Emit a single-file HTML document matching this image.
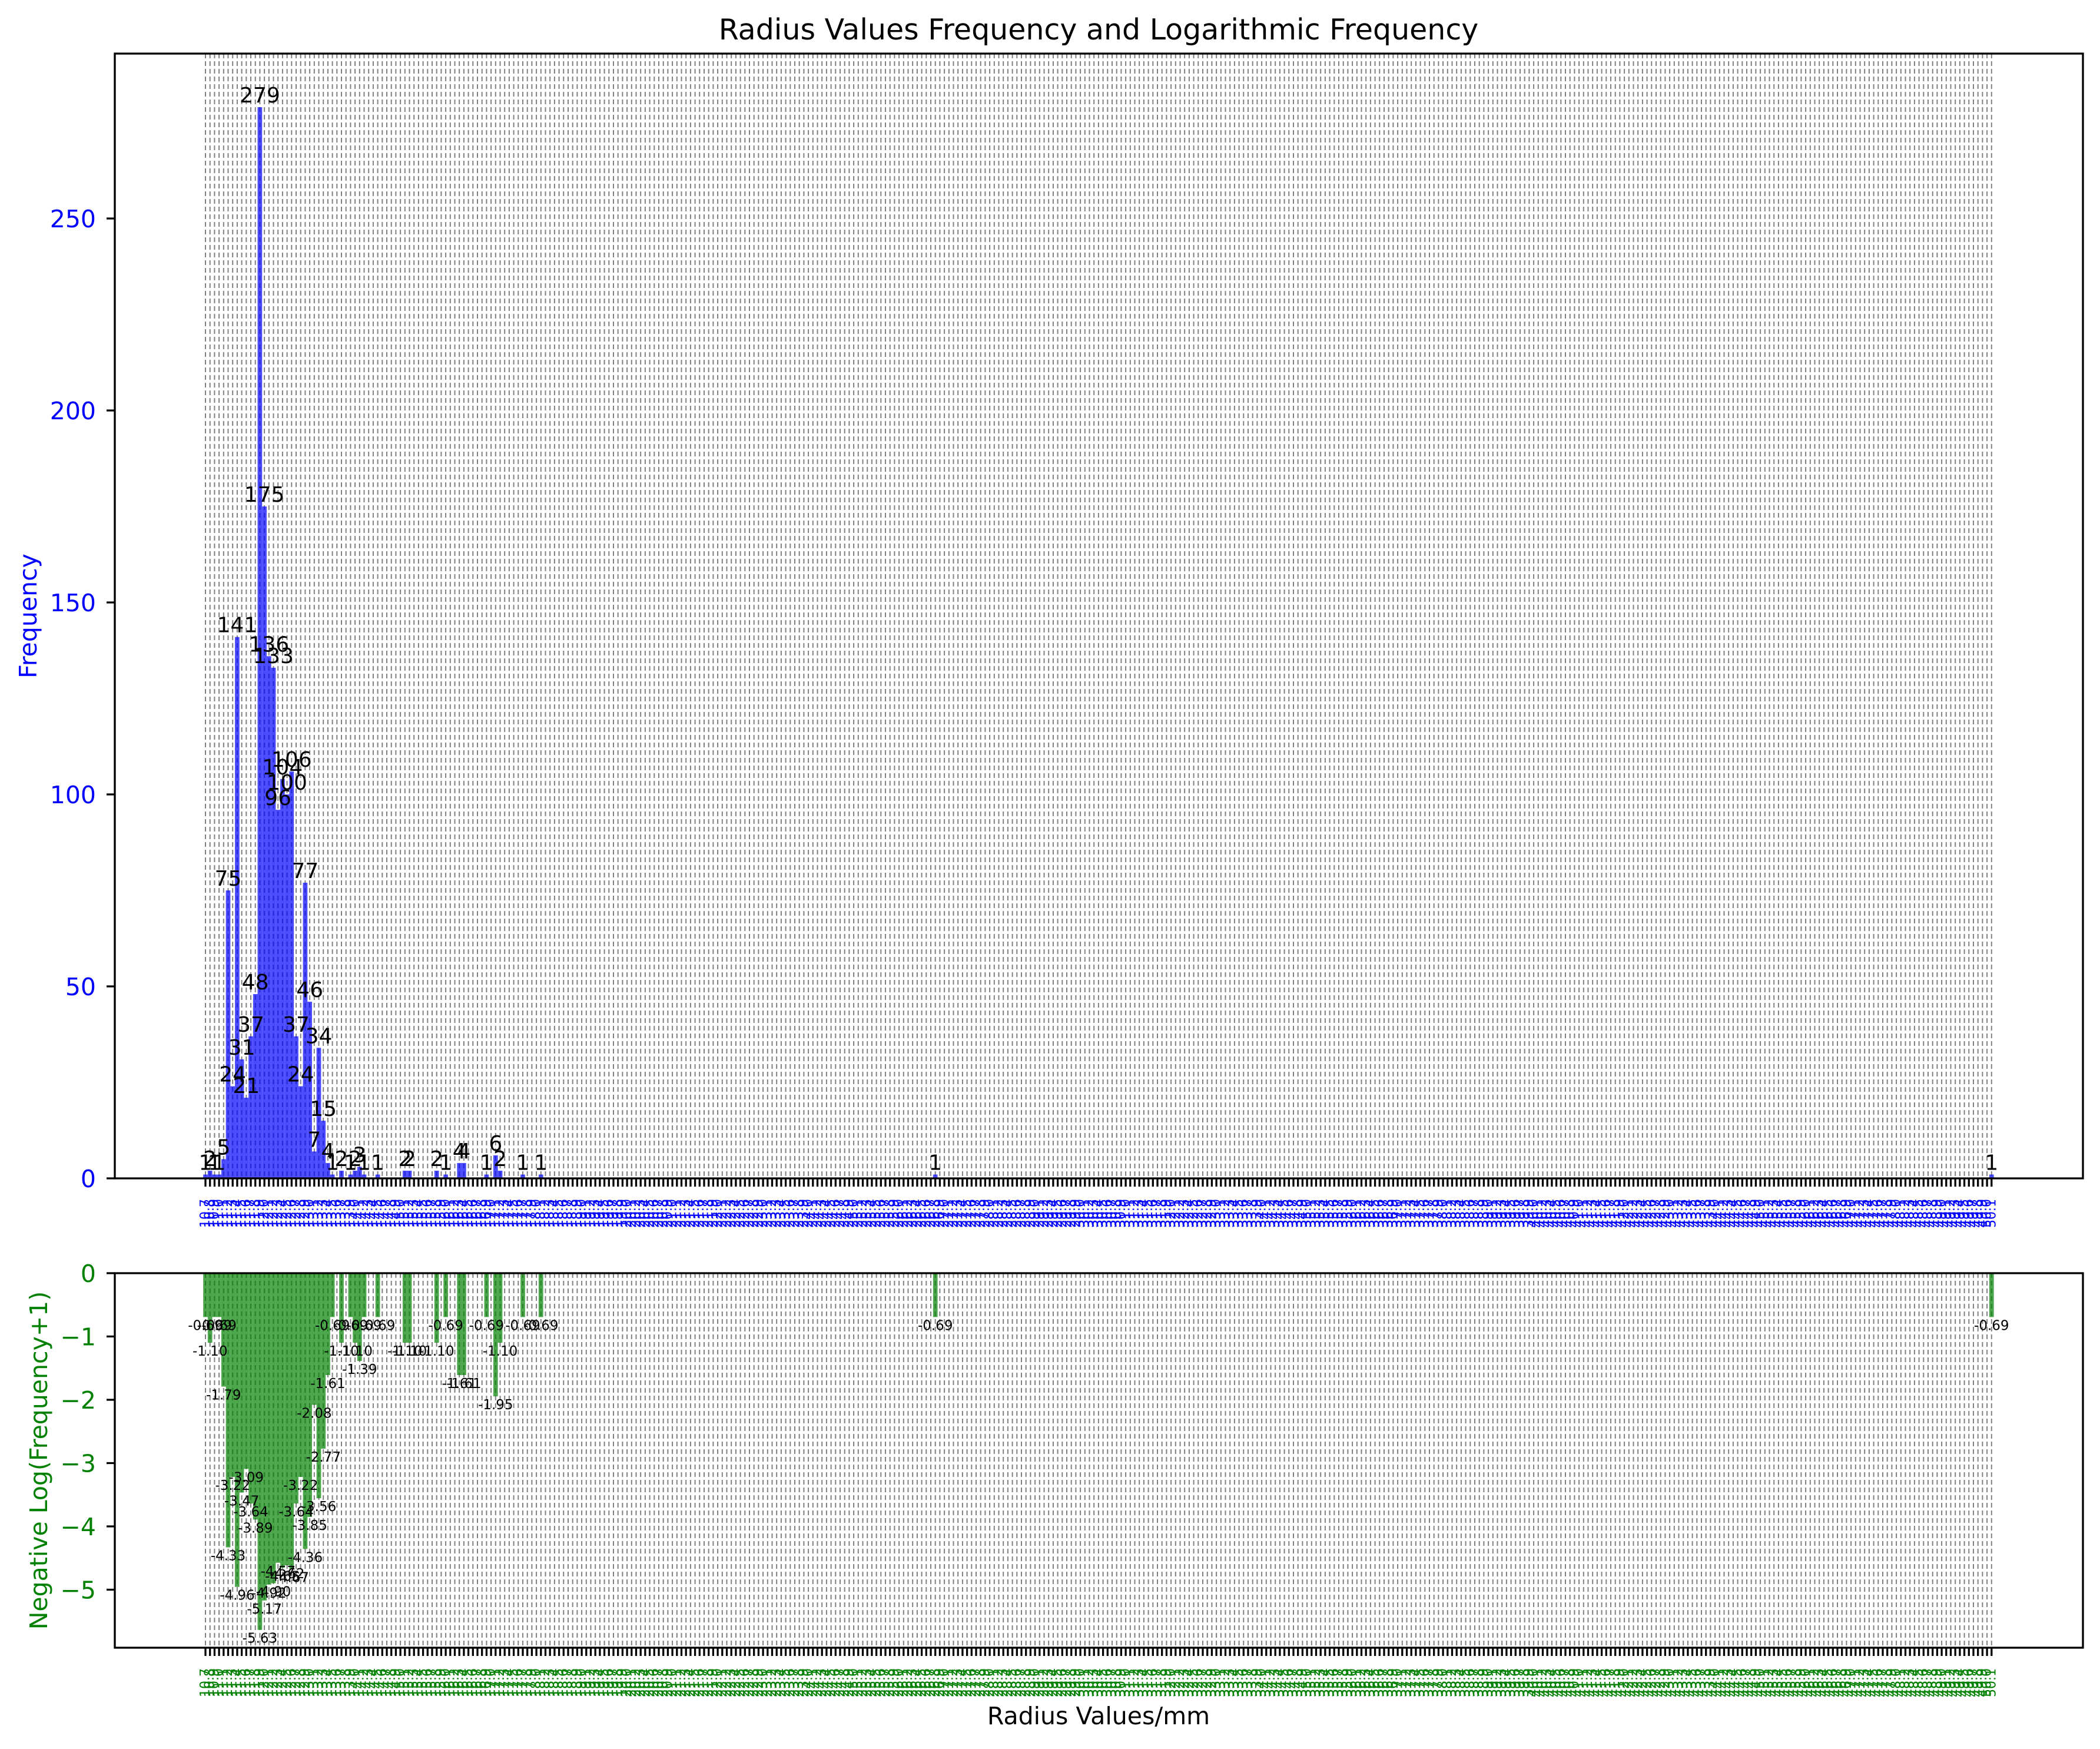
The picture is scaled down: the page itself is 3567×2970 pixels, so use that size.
<!DOCTYPE html>
<html>
<head>
<meta charset="utf-8">
<style>
  html, body { margin: 0; padding: 0; background: #ffffff; }
  svg { display: block; font-family: "DejaVu Sans", "Liberation Sans", sans-serif; }
</style>
</head>
<body>
<svg id="chart" xmlns="http://www.w3.org/2000/svg" width="3567" height="2970" viewBox="0 0 3567 2970">
  <rect x="0" y="0" width="3567" height="2970" fill="#ffffff"/>
  <text x="1866" y="67" font-size="49" text-anchor="middle" fill="#000">Radius Values Frequency and Logarithmic Frequency</text>
  <g id="top-grid"></g>
  <g id="bot-grid"></g>
  <g id="top-bars"></g>
  <g id="bot-bars"></g>
  <g id="top-labels"></g>
  <g id="bot-labels"></g>
  <g id="axes"></g>
  <text x="1866" y="2928" font-size="41" text-anchor="middle" fill="#000">Radius Values/mm</text>
  <text transform="translate(62,1046) rotate(-90)" font-size="41" text-anchor="middle" fill="#0000ff">Frequency</text>
  <text transform="translate(80,2480) rotate(-90)" font-size="41" text-anchor="middle" fill="#008000">Negative Log(Frequency+1)</text>
</svg>
<script>
// ---- data ----
const categoryCount = 395;
const barIndices = [0,1,2,3,4,5,6,7,8,9,10,11,12,13,14,15,16,17,18,19,20,21,22,23,24,25,26,27,28,30,32,33,34,35,38,44,45,51,53,56,57,62,64,65,70,74,161,394];
const frequencies = [1,2,1,1,5,75,24,141,31,21,37,48,279,175,136,133,96,104,100,106,37,24,77,46,7,34,15,4,1,2,1,2,3,1,1,2,2,2,1,4,4,1,6,2,1,1,1,1];
const topYTicks = [0,50,100,150,200,250];
const topYTickLabels = ["0","50","100","150","200","250"];
const botYTicks = [0,-1,-2,-3,-4,-5];
const botYTickLabels = ["0","\u22121","\u22122","\u22123","\u22124","\u22125"];
const radiusLabels = [];
for (let i = 0; i < categoryCount; i++) { radiusLabels.push((10.7 + i * 0.1).toFixed(1)); }

// ---- layout ----
const NS = "http://www.w3.org/2000/svg";
const L = 195, R = 3538;
const topT = 91, topB = 2001, botT = 2162, botB = 2798;
const x0 = 349, step = 7.7;
const maxF = Math.max(...frequencies);
const topMax = maxF * 1.05;
const logVals = frequencies.map(f => -Math.log(f + 1));
const botMin = Math.min(...logVals) * 1.05;

function xC(i) { return x0 + i * step; }
function yTop(v) { return topB - (v / topMax) * (topB - topT); }
function yBot(v) { return botT + (v / botMin) * (botB - botT); }

function mk(tag, attrs, parent) {
  const e = document.createElementNS(NS, tag);
  for (const k in attrs) e.setAttribute(k, attrs[k]);
  parent.appendChild(e);
  return e;
}

const gTopGrid = document.getElementById('top-grid');
const gBotGrid = document.getElementById('bot-grid');
const gTopBars = document.getElementById('top-bars');
const gBotBars = document.getElementById('bot-bars');
const gTopLab = document.getElementById('top-labels');
const gBotLab = document.getElementById('bot-labels');
const gAxes = document.getElementById('axes');

// grid lines
for (let i = 0; i < categoryCount; i++) {
  const x = xC(i);
  const a = mk('line', {x1: x, x2: x, y1: topT, y2: topB, stroke: '#808080', 'stroke-width': 2, 'stroke-dasharray': '8 5'}, gTopGrid);
  
  
  const b = mk('line', {x1: x, x2: x, y1: botT, y2: botB, stroke: '#808080', 'stroke-width': 2, 'stroke-dasharray': '8 5'}, gBotGrid);
  
  
}

// bars + labels
for (let k = 0; k < barIndices.length; k++) {
  const i = barIndices[k];
  const f = frequencies[k];
  const cx = xC(i);
  const yt = yTop(f);
  const r1 = mk('rect', {x: cx - step / 2, y: yt, width: step, height: topB - yt, fill: '#0000ff', 'fill-opacity': 0.7}, gTopBars);
  
  
  const t1 = mk('text', {x: cx, y: yt - 8, 'font-size': 36, 'text-anchor': 'middle', fill: '#000'}, gTopLab);
  t1.textContent = String(f);
  
  

  const lv = logVals[k];
  const yb = yBot(lv);
  const r2 = mk('rect', {x: cx - step / 2, y: botT, width: step, height: yb - botT, fill: '#008000', 'fill-opacity': 0.7}, gBotBars);
  
  
  const t2 = mk('text', {x: cx, y: yb + 22, 'font-size': 23, 'text-anchor': 'middle', fill: '#000'}, gBotLab);
  t2.textContent = lv.toFixed(2);
  
  
}

// axes frames
const f1 = mk('rect', {x: L, y: topT, width: R - L, height: topB - topT, fill: 'none', stroke: '#000', 'stroke-width': 3.3}, gAxes);


const f2 = mk('rect', {x: L, y: botT, width: R - L, height: botB - botT, fill: 'none', stroke: '#000', 'stroke-width': 3.3}, gAxes);



// x ticks and labels
for (let i = 0; i < categoryCount; i++) {
  const x = xC(i);
  const t = mk('line', {x1: x, x2: x, y1: topB, y2: topB + 14, stroke: '#000', 'stroke-width': 3.3}, gAxes);
  
  
  const t2 = mk('line', {x1: x, x2: x, y1: botB, y2: botB + 14, stroke: '#000', 'stroke-width': 3.3}, gAxes);
  
  
  const l1 = mk('text', {transform: 'translate(' + x + ',2036) rotate(-90)', 'font-size': 22, 'text-anchor': 'end', 'dominant-baseline': 'central', fill: '#0000ff'}, gAxes);
  l1.textContent = radiusLabels[i];
  
  
  const l2 = mk('text', {transform: 'translate(' + x + ',2833) rotate(-90)', 'font-size': 22, 'text-anchor': 'end', 'dominant-baseline': 'central', fill: '#008000'}, gAxes);
  l2.textContent = radiusLabels[i];
  
  
}

// y ticks
topYTicks.forEach((v, j) => {
  const y = yTop(v);
  const t = mk('line', {x1: L - 14, x2: L, y1: y, y2: y, stroke: '#000', 'stroke-width': 3.3}, gAxes);
  
  
  const l = mk('text', {x: 163, y: y + 15, 'font-size': 41, 'text-anchor': 'end', fill: '#0000ff'}, gAxes);
  l.textContent = topYTickLabels[j];
  
  
});
botYTicks.forEach((v, j) => {
  const y = yBot(v);
  const t = mk('line', {x1: L - 14, x2: L, y1: y, y2: y, stroke: '#000', 'stroke-width': 3.3}, gAxes);
  
  
  const l = mk('text', {x: 163, y: y + 15, 'font-size': 41, 'text-anchor': 'end', fill: '#008000'}, gAxes);
  l.textContent = botYTickLabels[j];
  
  
});
</script>
</body>
</html>
